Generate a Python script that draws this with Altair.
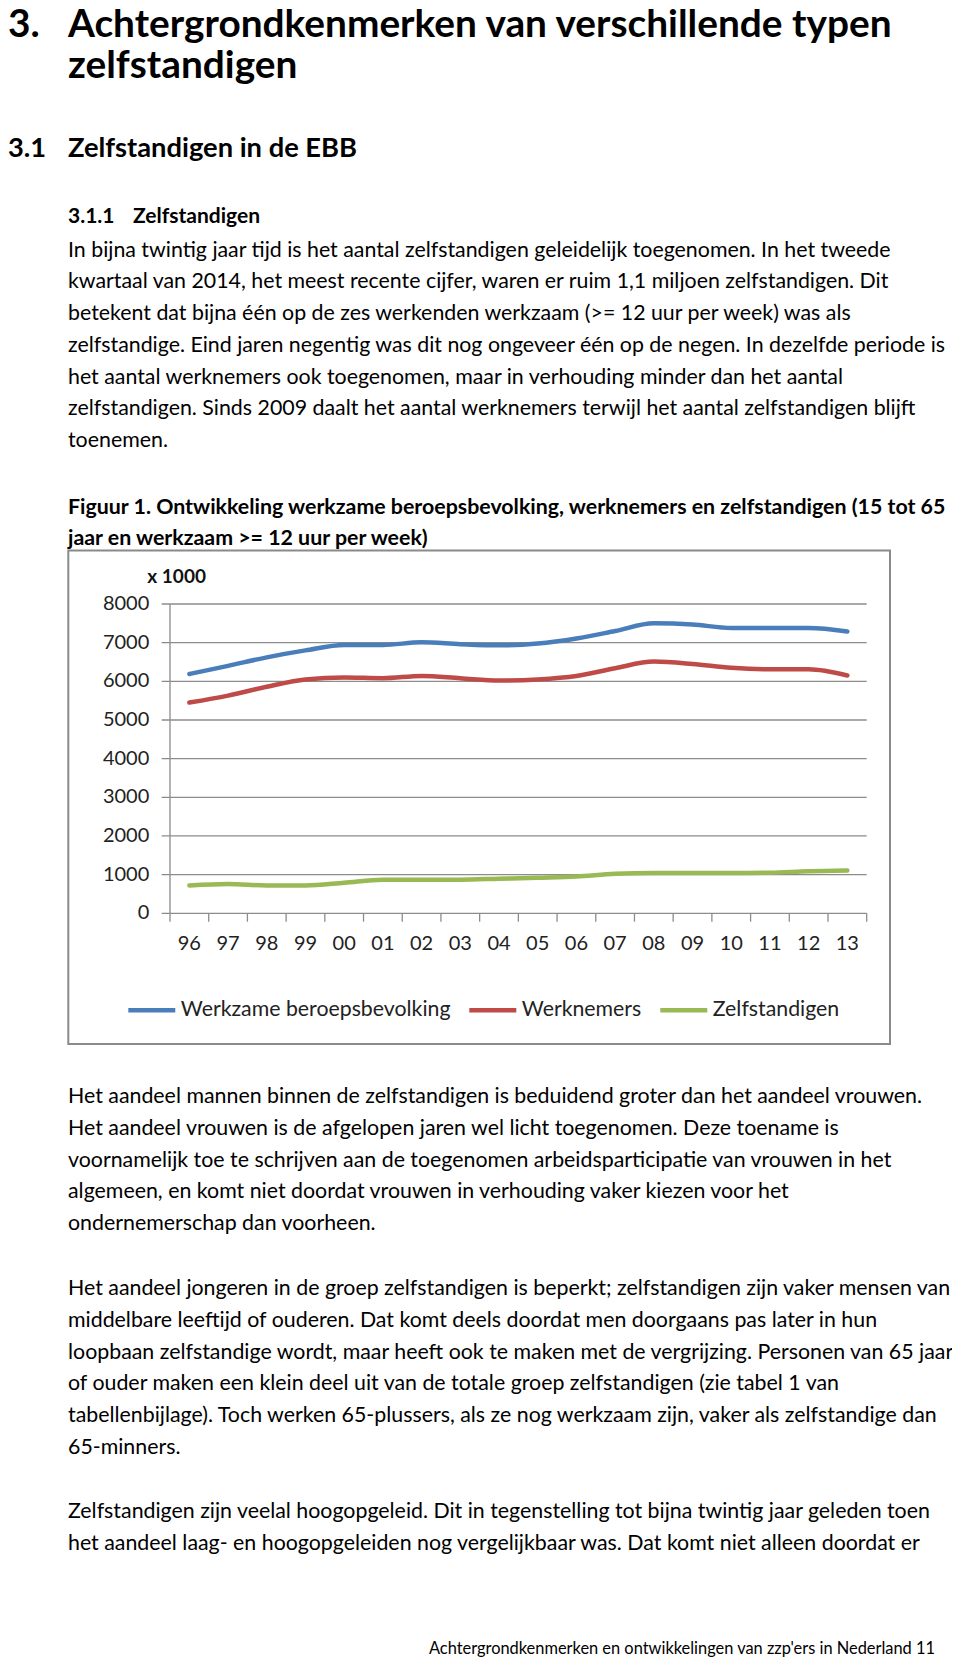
import altair as alt
import pandas as pd

# ---------------- data ----------------
years = ["96", "97", "98", "99", "00", "01", "02", "03", "04", "05",
         "06", "07", "08", "09", "10", "11", "12", "13"]
werkzame = [6190, 6400, 6620, 6800, 6940, 6940, 7010, 6960, 6930, 6980,
            7110, 7300, 7500, 7470, 7380, 7380, 7380, 7290]
werknemers = [5450, 5630, 5860, 6050, 6100, 6080, 6140, 6080, 6020, 6050,
              6140, 6340, 6510, 6450, 6350, 6310, 6310, 6150]
zelfstandigen = [720, 760, 720, 720, 790, 870, 870, 870, 895, 920,
                 950, 1020, 1040, 1040, 1040, 1050, 1090, 1110]
series_names = ["Werkzame beroepsbevolking", "Werknemers", "Zelfstandigen"]
series_colors = ["#4A7EBB", "#BE4B48", "#98B954"]
y_ticks = [0, 1000, 2000, 3000, 4000, 5000, 6000, 7000, 8000]
y_unit = "x 1000"

h1_num = "3."
h1_lines = ["Achtergrondkenmerken van verschillende typen", "zelfstandigen"]
h2_num = "3.1"
h2_text = "Zelfstandigen in de EBB"
h3_num = "3.1.1"
h3_text = "Zelfstandigen"
para1 = [
    "In bijna twintig jaar tijd is het aantal zelfstandigen geleidelijk toegenomen. In het tweede",
    "kwartaal van 2014, het meest recente cijfer, waren er ruim 1,1 miljoen zelfstandigen. Dit",
    "betekent dat bijna één op de zes werkenden werkzaam (>= 12 uur per week) was als",
    "zelfstandige. Eind jaren negentig was dit nog ongeveer één op de negen. In dezelfde periode is",
    "het aantal werknemers ook toegenomen, maar in verhouding  minder dan het aantal",
    "zelfstandigen. Sinds 2009 daalt het aantal werknemers terwijl het aantal zelfstandigen blijft",
    "toenemen.",
]
caption = [
    "Figuur 1. Ontwikkeling werkzame beroepsbevolking, werknemers en zelfstandigen (15 tot 65",
    "jaar en werkzaam >= 12 uur per week)",
]
para2 = [
    "Het aandeel mannen binnen de zelfstandigen is beduidend groter dan het aandeel vrouwen.",
    "Het aandeel vrouwen is de afgelopen jaren wel licht toegenomen. Deze toename is",
    "voornamelijk toe te schrijven aan de toegenomen arbeidsparticipatie van vrouwen in het",
    "algemeen, en komt niet doordat vrouwen in verhouding vaker kiezen voor het",
    "ondernemerschap dan voorheen.",
]
para3 = [
    "Het aandeel jongeren in de groep zelfstandigen is beperkt; zelfstandigen zijn vaker mensen van",
    "middelbare leeftijd of ouderen. Dat komt deels doordat men doorgaans pas  later in hun",
    "loopbaan zelfstandige wordt, maar heeft ook te maken  met de vergrijzing. Personen van 65 jaar",
    "of ouder maken een klein deel uit van de totale groep zelfstandigen (zie tabel 1 van",
    "tabellenbijlage). Toch werken 65-plussers, als ze nog werkzaam zijn, vaker als zelfstandige dan",
    "65-minners.",
]
para4 = [
    "Zelfstandigen zijn veelal hoogopgeleid. Dit in tegenstelling tot bijna twintig jaar geleden toen",
    "het aandeel laag- en hoogopgeleiden nog vergelijkbaar was. Dat komt niet alleen doordat er",
]
footer = "Achtergrondkenmerken en ontwikkelingen van zzp'ers in Nederland  11"

# ---------------- tables ----------------
rows = []
for name, vals in zip(series_names, [werkzame, werknemers, zelfstandigen]):
    for i, (yr, v) in enumerate(zip(years, vals)):
        rows.append({"idx": i, "year": yr, "value": v, "series": name})
df = pd.DataFrame(rows)
df_years = pd.DataFrame({"idx": list(range(len(years))), "year": years})
df_bounds = pd.DataFrame({"idx": [k - 0.5 for k in range(len(years) + 1)], "value": 0})
df_grid = pd.DataFrame({"value": y_ticks, "label": [str(t) for t in y_ticks]})
df_yaxis = pd.DataFrame({"idx": [-0.5], "value": [y_ticks[0]], "value_end": [y_ticks[-1]]})

BODY = "Lato, 'Open Sans', sans-serif"
CHART_FONT = "Lato, 'Open Sans', sans-serif"
GRID = "#8c8c8c"
TXT = "#222222"
BODY_SIZE = 21.35

X = alt.X("idx:Q", axis=None,
          scale=alt.Scale(domain=[-0.5, len(years) - 0.5], range=[162, 858.7], nice=False, zero=False))
Y = alt.Y("value:Q", axis=None,
          scale=alt.Scale(domain=[0, 8000], range=[905.3, 596], nice=False, zero=False))

frame = alt.Chart(pd.DataFrame({"a": [0]})).mark_rect(
    filled=False, stroke="#8a8a8a", strokeWidth=2
).encode(x=alt.value(60.3), x2=alt.value(882), y=alt.value(542.5), y2=alt.value(1036))

grid = alt.Chart(df_grid).mark_rule(color=GRID, strokeWidth=1.3).encode(
    y=Y, x=alt.value(153.7), x2=alt.value(858.7))

yaxis = alt.Chart(df_yaxis).mark_rule(color=GRID, strokeWidth=1.3).encode(
    x=X, y=Y, y2="value_end:Q")

xticks = alt.Chart(df_bounds).mark_rule(color=GRID, strokeWidth=1.3).encode(
    x=X, y=Y, y2=alt.value(913.7))

ylabels = alt.Chart(df_grid).mark_text(
    align="right", baseline="middle", font=CHART_FONT, fontSize=20, color=TXT
).encode(y=Y, x=alt.value(141.3), text="label:N")

xlabels = alt.Chart(df_years).mark_text(
    align="center", baseline="alphabetic", font=CHART_FONT, fontSize=20, color=TXT
).encode(x=X, y=alt.value(942), text="year:N")

unit = alt.Chart(pd.DataFrame({"t": [y_unit]})).mark_text(
    align="left", baseline="alphabetic", font=CHART_FONT, fontSize=19, fontWeight="bold", color="#111"
).encode(x=alt.value(139.3), y=alt.value(575.3), text="t:N")

lines = alt.Chart(df).mark_line(strokeWidth=4.5, interpolate="monotone", strokeCap="round").encode(
    x=X, y=Y,
    color=alt.Color("series:N", sort=series_names,
                    scale=alt.Scale(domain=series_names, range=series_colors),
                    legend=alt.Legend(orient="none", legendX=117.8, legendY=976,
                                      direction="horizontal", title=None,
                                      symbolType="stroke", symbolSize=2209,
                                      symbolStrokeWidth=4.5, labelFontSize=21.3,
                                      labelFont=CHART_FONT, labelColor=TXT,
                                      labelOffset=3, columnPadding=9, labelLimit=500)),
)


def block(text_lines, x, y, size, weight="normal", lh=31.75, align="left"):
    return alt.Chart(pd.DataFrame({"t": ["\n".join(text_lines)]})).mark_text(
        align=align, baseline="alphabetic", font=BODY, fontSize=size, fontWeight=weight,
        lineBreak="\n", lineHeight=lh, color="#000"
    ).encode(x=alt.value(x), y=alt.value(y), text="t:N")


texts = [
    block([h1_num], 0, 29, 38.8, "bold"),
    block([h1_lines[0]], 60, 29, 38.8, "bold"),
    block([h1_lines[1]], 60, 70, 38.8, "bold"),
    block([h2_num], 0, 149.3, 27.3, "bold"),
    block([h2_text], 60, 149.3, 27.3, "bold"),
    block([h3_num], 60, 215.3, 21, "bold"),
    block([h3_text], 125, 215.3, 21, "bold"),
    block(para1, 60, 248.7, BODY_SIZE),
    block(caption, 60, 505.5, BODY_SIZE, "bold"),
    block(para2, 60, 1095, BODY_SIZE),
    block(para3, 60, 1287, BODY_SIZE),
    block(para4, 60, 1510, BODY_SIZE),
    block([footer], 927, 1646, 16.4, align="right"),
]

chart = alt.layer(frame, grid, yaxis, xticks, ylabels, xlabels, unit, lines, *texts).properties(
    width=944, height=1650, autosize=alt.AutoSizeParams(type="none"), padding=0,
    background="white"
).configure_view(stroke=None)

chart.save("out.html", embed_options={"renderer": "svg", "actions": False})
